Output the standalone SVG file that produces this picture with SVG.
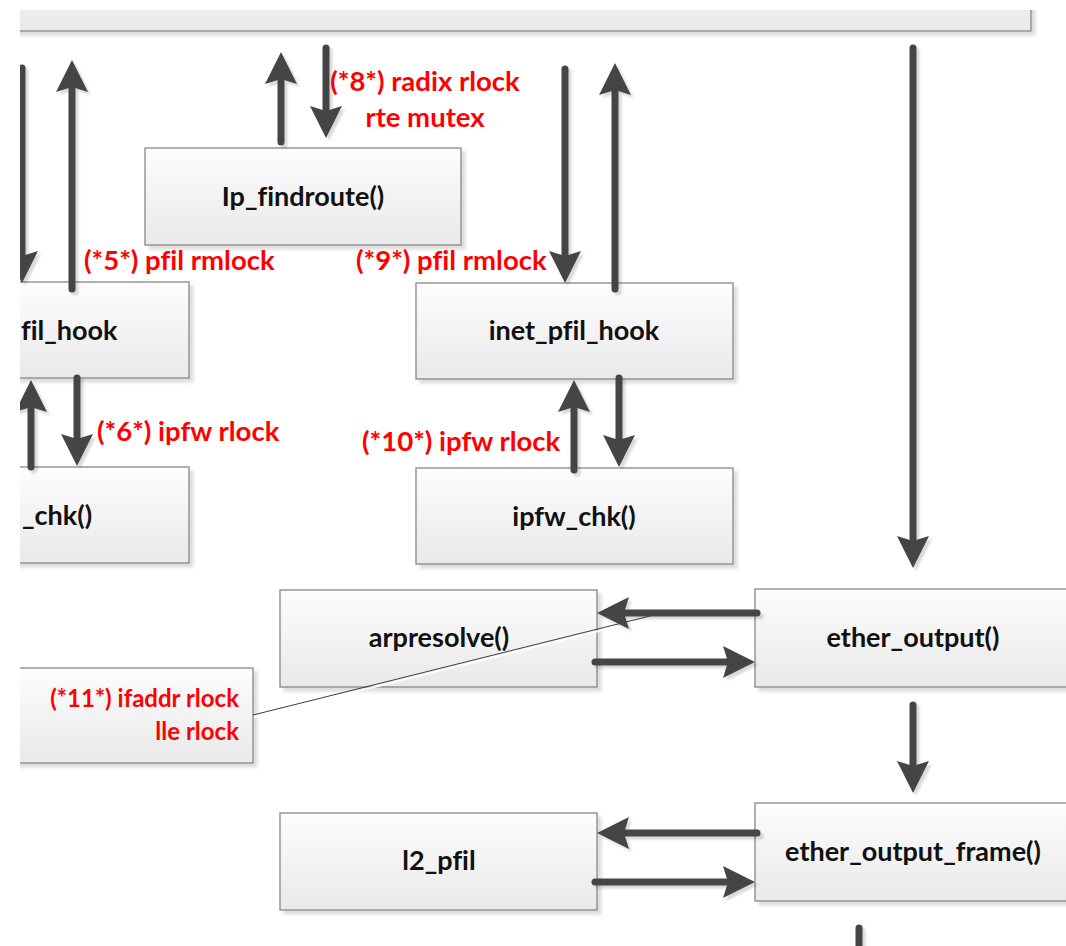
<svg xmlns="http://www.w3.org/2000/svg" width="1066" height="946" viewBox="0 0 1066 946">
  <defs>
    <linearGradient id="boxFill" x1="0" y1="0" x2="0" y2="1">
      <stop offset="0" stop-color="#fdfdfd"/>
      <stop offset="1" stop-color="#e9e9e9"/>
    </linearGradient>
    <filter id="boxShadow" x="-5%" y="-10%" width="115%" height="130%">
      <feDropShadow dx="4" dy="4" stdDeviation="1.5" flood-color="#000" flood-opacity="0.13"/>
    </filter>
    <filter id="arrowShadow" x="-20%" y="-20%" width="140%" height="140%">
      <feDropShadow dx="3" dy="3" stdDeviation="1.2" flood-color="#000" flood-opacity="0.15"/>
    </filter>
    <marker id="head" markerUnits="userSpaceOnUse" orient="auto" refX="0" refY="0" markerWidth="60" markerHeight="60" overflow="visible">
      <path d="M27,0 L-5,-16 L0,0 L-5,16 Z" fill="#444444"/>
    </marker>
    <clipPath id="page">
      <rect x="20" y="10" width="1046" height="936"/>
    </clipPath>
    <style>
      .box { fill: url(#boxFill); stroke: #878787; stroke-width: 1.3; filter: url(#boxShadow); }
      .name { font-family: Lato, "Liberation Sans", sans-serif; font-weight: bold; font-size: 27px; fill: #111111; text-anchor: middle; font-variant-ligatures: none; }
      .name.cut { text-anchor: start; }
      .lock { font-family: Lato, "Liberation Sans", sans-serif; font-weight: bold; font-size: 27.5px; fill: #ff0000; font-variant-ligatures: none; }
      .lock.note { font-size: 24px; text-anchor: end; }
      .arrow { stroke: #444444; stroke-width: 7; stroke-linecap: round; fill: none; marker-end: url(#head); }
      .tail { stroke: #444444; stroke-width: 7; stroke-linecap: round; fill: none; }
    </style>
  </defs>

  <rect width="1066" height="946" fill="#ffffff"/>

  <g clip-path="url(#page)">
    <!-- caller frame across the top -->
    <g id="top-frame">
      <rect class="box" x="-40" y="-60" width="1071" height="91"/>
    </g>

    <g id="ip-findroute">
      <rect class="box" x="145" y="148" width="316" height="97"/>
      <text class="name" x="303" y="206">Ip_findroute()</text>
    </g>

    <g id="pfil-hook-in">
      <rect class="box" x="-128" y="282" width="317" height="96"/>
      <text class="name cut" x="21" y="340">fil_hook</text>
    </g>

    <g id="chk-in">
      <rect class="box" x="-128" y="467" width="317" height="96"/>
      <text class="name cut" x="22" y="525">_chk()</text>
    </g>

    <g id="inet-pfil-hook-out">
      <rect class="box" x="416" y="283" width="317" height="96"/>
      <text class="name" x="574" y="340">inet_pfil_hook</text>
    </g>

    <g id="ipfw-chk-out">
      <rect class="box" x="416" y="468" width="317" height="96"/>
      <text class="name" x="574" y="526">ipfw_chk()</text>
    </g>

    <g id="arpresolve">
      <rect class="box" x="280" y="590" width="317" height="97"/>
      <text class="name" x="439" y="647">arpresolve()</text>
    </g>

    <g id="ether-output">
      <rect class="box" x="755" y="589" width="317" height="98"/>
      <text class="name" x="913" y="647">ether_output()</text>
    </g>

    <g id="l2-pfil">
      <rect class="box" x="280" y="813" width="317" height="97"/>
      <text class="name" x="439" y="870">l2_pfil</text>
    </g>

    <g id="ether-output-frame">
      <rect class="box" x="755" y="803" width="317" height="98"/>
      <text class="name" x="913" y="861">ether_output_frame()</text>
    </g>

    <g id="lock-note-11">
      <rect class="box" x="-80" y="668" width="333" height="95"/>
      <text class="lock note" x="239" y="707">(*11*) ifaddr rlock</text>
      <text class="lock note" x="239" y="740">lle rlock</text>
    </g>

    <!-- lock annotations along the call path -->
    <g id="lock-labels">
      <text class="lock" x="425" y="91" text-anchor="middle">(*8*) radix rlock</text>
      <text class="lock" x="425" y="127" text-anchor="middle">rte mutex</text>
      <text class="lock" x="84" y="270">(*5*) pfil rmlock</text>
      <text class="lock" x="356" y="270">(*9*) pfil rmlock</text>
      <text class="lock" x="97" y="441">(*6*) ipfw rlock</text>
      <text class="lock" x="362" y="451">(*10*) ipfw rlock</text>
    </g>

    <g id="connectors">
      <!-- callout pointer from the (*11*) note -->
      <line x1="254" y1="717" x2="659" y2="616" stroke="#ffffff" stroke-width="2" opacity="0.9"/>
      <line x1="253" y1="715" x2="658" y2="614" stroke="#3c3c3c" stroke-width="1"/>

      <g filter="url(#arrowShadow)">
        <!-- input path -->
        <line class="arrow" x1="22" y1="68" x2="22" y2="256"/>
        <line class="arrow" x1="72" y1="289" x2="72" y2="87"/>
        <line class="arrow" x1="31" y1="467" x2="31" y2="407"/>
        <line class="arrow" x1="77" y1="378" x2="77" y2="439"/>

        <!-- route lookup -->
        <line class="arrow" x1="281" y1="142" x2="281" y2="79"/>
        <line class="arrow" x1="326" y1="48" x2="326" y2="111"/>

        <!-- output path -->
        <line class="arrow" x1="565" y1="69" x2="565" y2="256"/>
        <line class="arrow" x1="615" y1="289" x2="615" y2="90"/>
        <line class="arrow" x1="574" y1="470" x2="574" y2="407"/>
        <line class="arrow" x1="619" y1="378" x2="619" y2="440"/>

        <!-- down to the link layer -->
        <line class="arrow" x1="913" y1="48" x2="913" y2="541"/>
        <line class="arrow" x1="757" y1="613" x2="624" y2="613"/>
        <line class="arrow" x1="595" y1="662" x2="728" y2="662"/>
        <line class="arrow" x1="913" y1="705" x2="913" y2="766"/>
        <line class="arrow" x1="757" y1="833" x2="624" y2="833"/>
        <line class="arrow" x1="595" y1="882" x2="728" y2="882"/>
        <line class="tail" x1="859" y1="928" x2="859" y2="980"/>
      </g>
    </g>
  </g>
</svg>
